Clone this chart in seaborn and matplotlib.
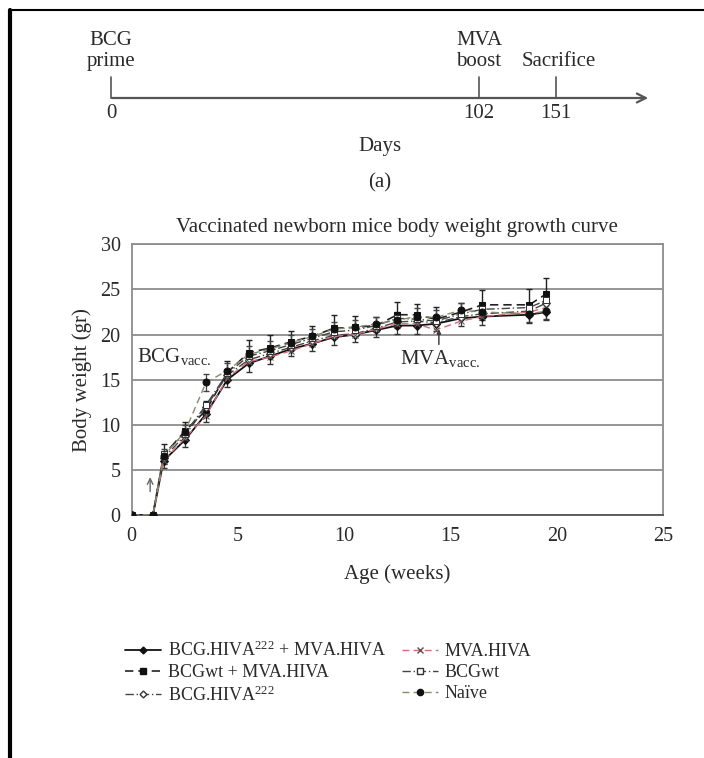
import matplotlib
matplotlib.use("Agg")
import matplotlib.pyplot as plt
import seaborn as sns
import numpy as np
import pandas as pd
from matplotlib.lines import Line2D

# ---------------- data ----------------
weeks = [0, 1, 1.5, 2.5, 3.5, 4.5, 5.5, 6.5, 7.5, 8.5, 9.5, 10.5, 11.5, 12.5, 13.4, 14.3, 15.5, 16.5, 18.7, 19.5]
s_bcghiva_mva = [0, 0, 6.0, 8.3, 11.2, 15.0, 16.8, 17.6, 18.4, 19.0, 19.7, 20.0, 20.5, 21.0, 21.0, 21.2, 21.8, 22.0, 22.2, 22.5]
s_bcgwt_mva   = [0, 0, 6.6, 9.3, 11.6, 15.8, 18.0, 18.5, 19.2, 19.8, 20.7, 20.8, 21.0, 22.2, 22.2, 21.7, 22.5, 23.3, 23.3, 24.5]
s_bcghiva     = [0, 0, 6.3, 8.8, 12.0, 15.5, 17.2, 17.9, 18.6, 19.3, 19.9, 20.1, 20.7, 21.4, 21.5, 21.3, 22.0, 22.3, 22.6, 23.5]
s_mvahiva     = [0, 0, 6.0, 8.5, 11.0, 15.2, 17.0, 17.5, 18.2, 19.0, 19.8, 20.0, 20.6, 21.2, 21.2, 20.5, 21.5, 22.0, 22.5, 23.0]
s_bcgwt       = [0, 0, 6.8, 9.0, 12.2, 15.7, 17.6, 18.2, 18.9, 19.6, 20.3, 20.5, 21.0, 21.8, 21.7, 21.5, 22.3, 22.8, 23.0, 23.8]
s_naive       = [0, 0, 6.5, 9.2, 14.7, 16.0, 17.8, 18.4, 19.1, 19.8, 20.6, 20.8, 21.2, 21.6, 22.0, 21.9, 22.7, 22.5, 22.3, 22.6]
err_top       = [0, 0, 1.3, 1.0, 1.0, 1.3, 1.4, 1.4, 1.2, 1.2, 1.5, 1.3, 1.0, 1.4, 1.2, 1.4, 1.0, 1.6, 1.8, 1.8]
err_naive     = [0, 0, 0.8, 0.8, 0.9, 0.8, 0.9, 0.9, 0.8, 0.8, 0.8, 0.8, 0.8, 0.9, 0.9, 0.8, 0.8, 0.9, 0.9, 0.9]

labels = [r"BCG.HIVA$^{222}$ + MVA.HIVA", "BCGwt + MVA.HIVA", r"BCG.HIVA$^{222}$",
          "MVA.HIVA", "BCGwt", "Naïve"]
series = [s_bcghiva_mva, s_bcgwt_mva, s_bcghiva, s_mvahiva, s_bcgwt, s_naive]

timeline_days = ["0", "102", "151"]
timeline_events = ["BCG\nprime", "MVA\nboost", "Sacrifice"]

# ---------------- style ----------------
sns.set_style("white")
plt.rcParams["font.family"] = ["Liberation Serif", "DejaVu Serif"]
plt.rcParams["mathtext.fontset"] = "custom"
plt.rcParams["mathtext.rm"] = "Liberation Serif"
plt.rcParams["mathtext.it"] = "Liberation Serif:italic"
plt.rcParams["mathtext.bf"] = "Liberation Serif:bold"

TXT = "#2a2a2a"
FS = 15
styles = [
    dict(color="#111111", ls="-", marker="D", ms=4, mfc="#111111", mec="#111111", lw=1.3),
    dict(color="#222222", ls=(0, (5, 3)), marker="s", ms=5, mfc="#111111", mec="#111111", lw=1.2),
    dict(color="#444444", ls=(0, (6, 2, 1, 2)), marker="D", ms=4, mfc="white", mec="#333333", lw=1.0),
    dict(color="#d96a7a", ls=(0, (5, 3)), marker="x", ms=5, mfc="#555555", mec="#555555", lw=1.0),
    dict(color="#444444", ls=(0, (6, 2, 1, 2)), marker="s", ms=5, mfc="white", mec="#333333", lw=1.0),
    dict(color="#8a8a6a", ls=(0, (5, 3)), marker="o", ms=5, mfc="#111111", mec="#111111", lw=1.0),
]

fig = plt.figure(figsize=(7.04, 7.58), dpi=100)

# ---------------- main chart ----------------
ax = fig.add_axes([0.187, 0.3206, 0.755, 0.357])

for i, (lab, ys) in enumerate(zip(labels, series)):
    df = pd.DataFrame({"weeks": weeks, "weight": ys})
    st = styles[i]
    sns.lineplot(data=df, x="weeks", y="weight", ax=ax, color=st["color"],
                 linestyle=st["ls"], linewidth=st["lw"], marker=st["marker"],
                 markersize=st["ms"], markerfacecolor=st["mfc"],
                 markeredgecolor=st["mec"], legend=False, zorder=3 + i)

ax.errorbar(weeks, s_bcgwt_mva, yerr=[np.zeros(len(weeks)), err_top], fmt="none",
            ecolor="#222222", elinewidth=1.0, capsize=2.5, zorder=2)
ax.errorbar(weeks, s_naive, yerr=err_naive, fmt="none",
            ecolor="#444444", elinewidth=0.9, capsize=2, zorder=2)
ax.errorbar(weeks, s_bcghiva_mva, yerr=[err_naive, np.zeros(len(weeks))], fmt="none",
            ecolor="#333333", elinewidth=0.9, capsize=2, zorder=2)

ax.set_xlim(0, 25)
ax.set_ylim(0, 30)
ax.set_xticks([0, 5, 10, 15, 20, 25])
ax.set_yticks([0, 5, 10, 15, 20, 25, 30])
ax.yaxis.grid(True, color="#8c8c8c", lw=1.3)
ax.set_axisbelow(True)
for s in ["left", "right", "top"]:
    ax.spines[s].set_color("#8c8c8c")
    ax.spines[s].set_linewidth(1.3)
ax.spines["bottom"].set_color("#555555")
ax.spines["bottom"].set_linewidth(1.3)
ax.tick_params(axis="both", direction="out", length=4, width=1, color="#777777",
               labelsize=14.5, labelcolor=TXT, pad=4)
ax.tick_params(axis="x", pad=5)
ax.set_xlabel("Age (weeks)", fontsize=FS, color=TXT, labelpad=13)
ax.set_ylabel("Body weight (gr)", fontsize=FS, color=TXT, labelpad=6)
ax.set_title("Vaccinated newborn mice body weight growth curve", fontsize=FS,
             color=TXT, pad=9)

ax.text(0.25, 17.6, r"BCG$_{\mathregular{vacc.}}$", fontsize=FS, color=TXT, va="center")
ax.annotate("", xy=(0.87, 4.5), xytext=(0.87, 2.3),
            arrowprops=dict(arrowstyle="->", color="#666666", lw=1.0))
ax.text(12.6, 17.3, r"MVA$_{\mathregular{vacc.}}$", fontsize=FS, color=TXT, va="center")
ax.annotate("", xy=(14.45, 20.9), xytext=(14.45, 18.6),
            arrowprops=dict(arrowstyle="-|>", color="#333333", lw=1.0, mutation_scale=6))

# ---------------- legend ----------------
handles = []
for st in styles:
    handles.append(Line2D([0], [0], color=st["color"], linestyle=st["ls"], lw=st["lw"],
                          marker=st["marker"], markersize=st["ms"] - 0.5,
                          markerfacecolor=st["mfc"], markeredgecolor=st["mec"]))
fig.legend(handles, labels, loc="upper left", bbox_to_anchor=(0.155, 0.176), ncol=2,
           frameon=False, fontsize=13, handlelength=2.0, handletextpad=0.35,
           columnspacing=0.85, labelspacing=0.22, labelcolor=TXT)

# ---------------- timeline panel and frame (pixel overlay) ----------------
ov = fig.add_axes([0, 0, 1, 1], zorder=-1)
ov.set_xlim(0, 704)
ov.set_ylim(758, 0)
ov.axis("off")
ov.plot([10, 704], [10, 10], color="black", lw=1.5)
ov.plot([10, 10], [10, 758], color="black", lw=3)

tl_x = [111, 479, 556]
ov.annotate("", xy=(651, 98), xytext=(109, 98),
            arrowprops=dict(arrowstyle="->", color="#555555", lw=1.6, mutation_scale=16))
for px, d, ev in zip(tl_x, timeline_days, timeline_events):
    ov.plot([px, px], [77, 98], color="#555555", lw=1.2)
    ov.text(px, 113, d, ha="center", va="center", fontsize=FS, color=TXT)
    if "\n" in ev:
        ov.text(px, 51, ev, ha="center", va="center", fontsize=FS, color=TXT,
                linespacing=1.2)
    else:
        ov.text(px + 3, 62, ev, ha="center", va="center", fontsize=FS, color=TXT)
ov.text(380, 146, "Days", ha="center", va="center", fontsize=FS, color=TXT)
ov.text(380, 183, "(a)", ha="center", va="center", fontsize=FS, color=TXT)

fig.savefig("out.png", dpi=100)
